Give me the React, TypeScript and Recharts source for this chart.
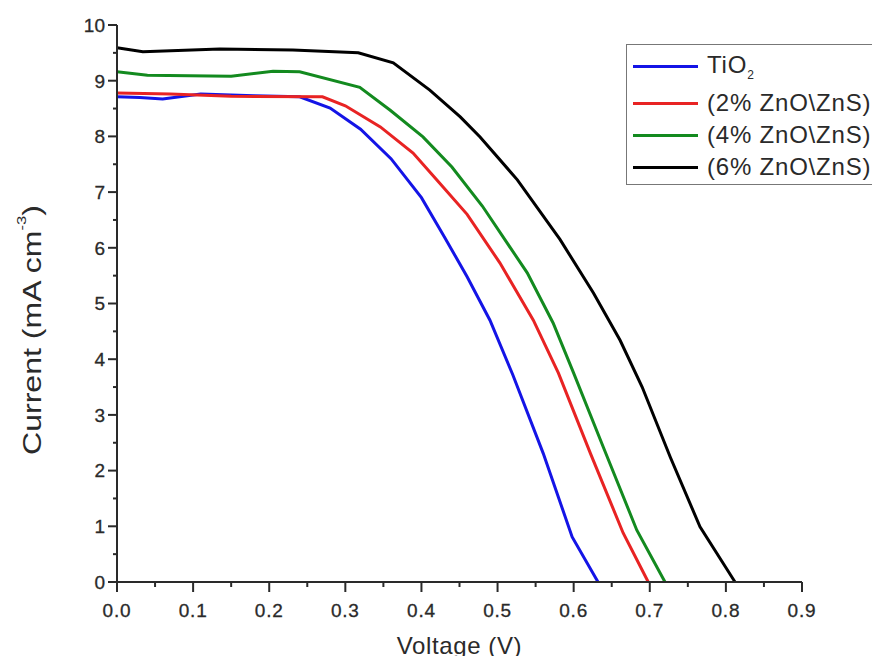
import { LineChart, Line, XAxis, YAxis, Legend } from "recharts";

// J-V curves, voltage (V) vs current density
const tio2 = [
  { v: 0, i: 8.71 }, { v: 0.03, i: 8.7 }, { v: 0.06, i: 8.67 }, { v: 0.11, i: 8.76 },
  { v: 0.18, i: 8.73 }, { v: 0.24, i: 8.71 }, { v: 0.28, i: 8.51 }, { v: 0.32, i: 8.13 },
  { v: 0.36, i: 7.6 }, { v: 0.4, i: 6.9 }, { v: 0.43, i: 6.2 }, { v: 0.46, i: 5.48 },
  { v: 0.49, i: 4.7 }, { v: 0.52, i: 3.72 }, { v: 0.56, i: 2.31 }, { v: 0.598, i: 0.81 },
  { v: 0.632, i: 0 },
];

const zno2 = [
  { v: 0, i: 8.78 }, { v: 0.07, i: 8.76 }, { v: 0.15, i: 8.72 }, { v: 0.27, i: 8.71 },
  { v: 0.3, i: 8.55 }, { v: 0.346, i: 8.17 }, { v: 0.389, i: 7.7 }, { v: 0.42, i: 7.22 },
  { v: 0.46, i: 6.6 }, { v: 0.503, i: 5.73 }, { v: 0.547, i: 4.7 }, { v: 0.58, i: 3.75 },
  { v: 0.622, i: 2.31 }, { v: 0.665, i: 0.88 }, { v: 0.698, i: 0 },
];

const zno4 = [
  { v: 0, i: 9.16 }, { v: 0.04, i: 9.1 }, { v: 0.15, i: 9.08 }, { v: 0.205, i: 9.17 },
  { v: 0.24, i: 9.16 }, { v: 0.319, i: 8.88 }, { v: 0.359, i: 8.47 }, { v: 0.402, i: 7.99 },
  { v: 0.44, i: 7.45 }, { v: 0.48, i: 6.75 }, { v: 0.539, i: 5.55 }, { v: 0.573, i: 4.65 },
  { v: 0.6, i: 3.75 }, { v: 0.639, i: 2.42 }, { v: 0.683, i: 0.93 }, { v: 0.72, i: 0 },
];

const zno6 = [
  { v: 0, i: 9.59 }, { v: 0.034, i: 9.52 }, { v: 0.135, i: 9.57 }, { v: 0.231, i: 9.55 },
  { v: 0.317, i: 9.5 }, { v: 0.363, i: 9.32 }, { v: 0.411, i: 8.83 }, { v: 0.451, i: 8.35 },
  { v: 0.477, i: 7.99 }, { v: 0.526, i: 7.22 }, { v: 0.582, i: 6.15 }, { v: 0.626, i: 5.19 },
  { v: 0.661, i: 4.34 }, { v: 0.69, i: 3.5 }, { v: 0.727, i: 2.24 }, { v: 0.766, i: 0.99 },
  { v: 0.812, i: 0 },
];

const seriesNames = ["TiO2", "(2% ZnO\\ZnS)", "(4% ZnO\\ZnS)", "(6% ZnO\\ZnS)"];

const xTicks = [0, 0.05, 0.1, 0.15, 0.2, 0.25, 0.3, 0.35, 0.4, 0.45, 0.5, 0.55, 0.6, 0.65, 0.7, 0.75, 0.8, 0.85, 0.9];
const yTicks = [0, 0.5, 1, 1.5, 2, 2.5, 3, 3.5, 4, 4.5, 5, 5.5, 6, 6.5, 7, 7.5, 8, 8.5, 9, 9.5, 10];

const FONT = '"Liberation Sans", Arial, sans-serif';
const INK = "#2a2a2a";

function XTick(props: any) {
  const { x, y, payload, index } = props;
  const major = index % 2 === 0;
  return (
    <g>
      <line x1={x} y1={y} x2={x} y2={y + (major ? 10 : 5)} stroke={INK} strokeWidth={2} />
      {major && (
        <text x={x} y={y + 35} textAnchor="middle" fontFamily={FONT} fontSize={19} letterSpacing={0.8} fill={INK} stroke={INK} strokeWidth={0.3}>
          {payload.value.toFixed(1)}
        </text>
      )}
    </g>
  );
}

function YTick(props: any) {
  const { x, y, payload, index } = props;
  const major = index % 2 === 0;
  return (
    <g>
      <line x1={x} y1={y} x2={x - (major ? 9 : 4)} y2={y} stroke={INK} strokeWidth={2} />
      {major && (
        <text x={x - 12} y={y} dy="0.36em" textAnchor="end" fontFamily={FONT} fontSize={19} fill={INK} stroke={INK} strokeWidth={0.3}>
          {payload.value}
        </text>
      )}
    </g>
  );
}

function renderLegend(props: any) {
  const rows = [21, 58, 90, 122];
  const items = [...props.payload].sort(
    (a: any, b: any) => seriesNames.indexOf(a.value) - seriesNames.indexOf(b.value)
  );
  return (
    <div
      style={{
        position: "relative",
        width: 290,
        height: 139,
        border: "1.5px solid #777",
        background: "#fff",
        fontFamily: FONT,
        fontSize: 24,
        letterSpacing: 0.8,
        color: INK,
      }}
    >
      {items.map((p: any, k: number) => (
        <div
          key={p.value}
          style={{
            position: "absolute",
            left: 6,
            top: rows[k] - 15,
            height: 30,
            display: "flex",
            alignItems: "center",
            whiteSpace: "nowrap",
          }}
        >
          <span style={{ display: "inline-block", width: 65, height: 3, background: p.color, marginRight: 9 }} />
          {p.value === "TiO2" ? (
            <span>
              TiO<sub style={{ fontSize: 12 }}>2</sub>
            </span>
          ) : (
            <span>{p.value}</span>
          )}
        </div>
      ))}
    </div>
  );
}

export default function App() {
  return (
    <div style={{ width: 872, height: 656, overflow: "hidden", margin: "0 -8px -8px 0", background: "#fff" }}>
      <LineChart width={900} height={656} margin={{ top: 17, right: 106, bottom: 22, left: 49 }}>
        <XAxis
          type="number"
          dataKey="v"
          domain={[0, 0.9]}
          ticks={xTicks}
          interval={0}
          height={60}
          tickSize={0}
          tickMargin={0}
          tickLine={false}
          axisLine={{ stroke: INK, strokeWidth: 2 }}
          tick={<XTick />}
          label={{
            content: (lp: any) => (
              <text
                x={lp.viewBox.x + lp.viewBox.width / 2}
                y={lp.viewBox.y + 72}
                textAnchor="middle"
                fontFamily={FONT}
                fontSize={24}
                letterSpacing={0.6}
                fill={INK}
              >
                Voltage (V)
              </text>
            ),
          }}
        />
        <YAxis
          type="number"
          domain={[0, 10]}
          ticks={yTicks}
          interval={0}
          width={60}
          tickSize={0}
          tickMargin={0}
          tickLine={false}
          axisLine={{ stroke: INK, strokeWidth: 2 }}
          tick={<YTick />}
          label={{
            content: () => (
              <text
                transform="rotate(-90)"
                x={-322}
                y={24}
                textAnchor="middle"
                dominantBaseline="central"
                fontFamily={FONT}
                fontSize={25}
                textLength={250}
                lengthAdjust="spacingAndGlyphs"
                fill={INK}
              >
                Current (mA cm
                <tspan dy={-11} fontSize={13}>-3</tspan>
                <tspan dy={11}>)</tspan>
              </text>
            ),
          }}
        />
        <Legend
          layout="horizontal"
          verticalAlign="middle"
          align="center"
          content={renderLegend}
          wrapperStyle={{ position: "absolute", left: 618, top: 36, width: 292 }}
        />
        <Line data={tio2} dataKey="i" name={seriesNames[0]} type="linear" stroke="#1414e6" strokeWidth={3} dot={false} isAnimationActive={false} />
        <Line data={zno2} dataKey="i" name={seriesNames[1]} type="linear" stroke="#e82323" strokeWidth={3} dot={false} isAnimationActive={false} />
        <Line data={zno4} dataKey="i" name={seriesNames[2]} type="linear" stroke="#138a1f" strokeWidth={3} dot={false} isAnimationActive={false} />
        <Line data={zno6} dataKey="i" name={seriesNames[3]} type="linear" stroke="#000000" strokeWidth={3} dot={false} isAnimationActive={false} />
      </LineChart>
    </div>
  );
}
